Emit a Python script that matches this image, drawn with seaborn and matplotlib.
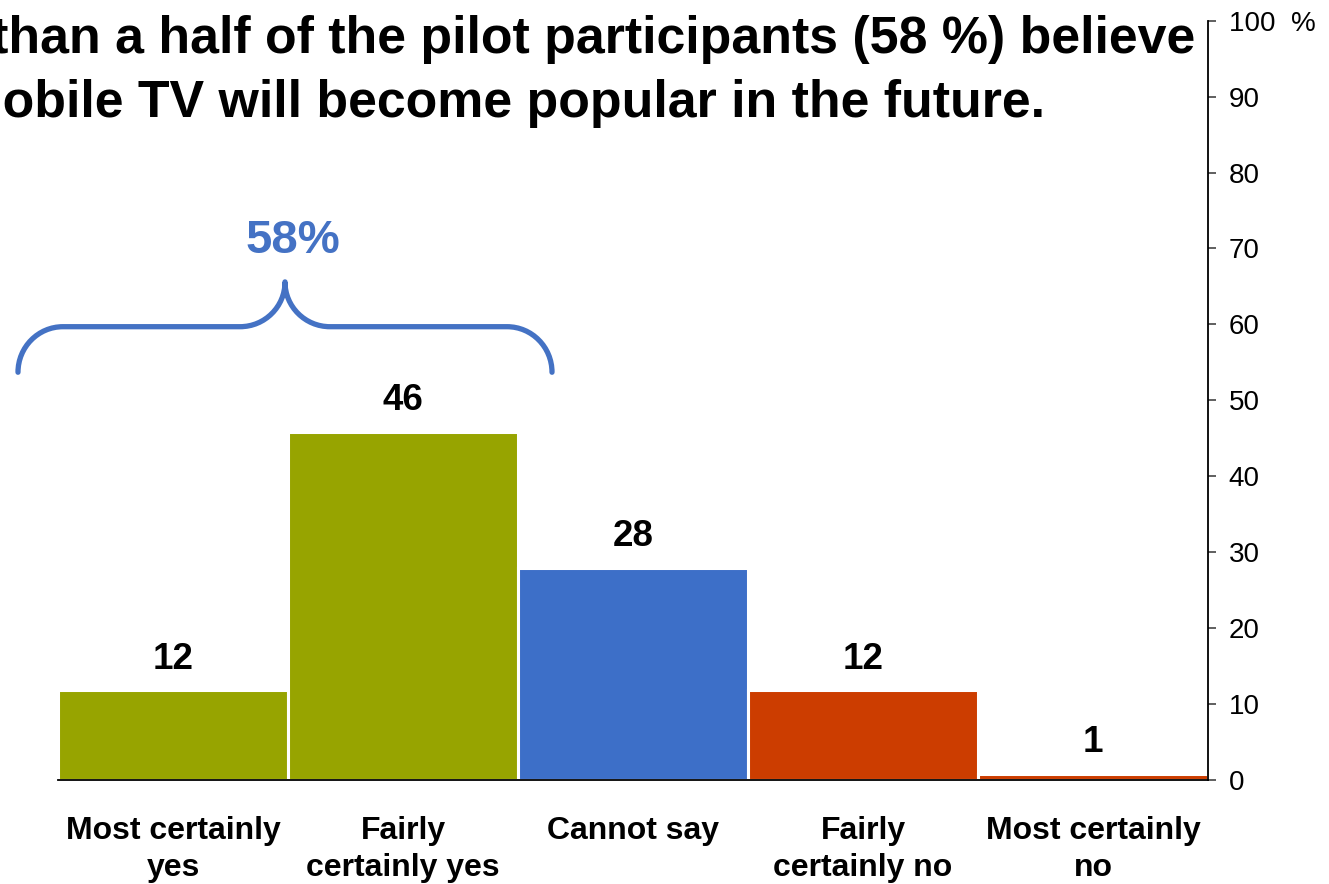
import numpy as np
import pandas as pd
import matplotlib
matplotlib.use("Agg")
import matplotlib.pyplot as plt
from matplotlib.path import Path
from matplotlib.patches import PathPatch
import seaborn as sns

# ---- data ----
categories = ["Most certainly\nyes", "Fairly\ncertainly yes", "Cannot say",
              "Fairly\ncertainly no", "Most certainly\nno"]
values = [11.8, 45.8, 27.9, 11.8, 0.8]
bar_colors = ["#97A400", "#97A400", "#3D6FC8", "#CC3D00", "#CC3D00"]
ytick_values = [0, 10, 20, 30, 40, 50, 60, 70, 80, 90, 100]
ytick_labels = ["0", "10", "20", "30", "40", "50", "60", "70", "80", "90", "100  %"]
title_line1 = "More than a half of the pilot participants (58 %) believe"
title_line2 = "that mobile TV will become popular in the future."
group_label = "58%"
group_span = (0, 1)  # categories covered by the brace

sns.set_style("white")
plt.rcParams["font.family"] = ["Liberation Sans", "DejaVu Sans"]
plt.rcParams["text.color"] = "black"

fig = plt.figure(figsize=(13.29, 8.84), dpi=100)
W, H = 1329, 884
ax = fig.add_axes([58 / W, 1 - 780 / H, 1150 / W, (780 - 20.7) / H])

df = pd.DataFrame({"cat": categories, "val": values})
sns.barplot(data=df, x="cat", y="val", hue="cat", palette=bar_colors,
            legend=False, width=1.0, edgecolor="white", linewidth=2.2,
            saturation=1, ax=ax)

ax.set_xlim(-0.5, len(categories) - 0.5)
ax.set_ylim(0, 100)
ax.set_xlabel("")
ax.set_ylabel("")

# value labels
for cont in ax.containers:
    ax.bar_label(cont, labels=[f"{b.get_height():.0f}" for b in cont],
                 padding=10, fontsize=26.5, fontweight="bold", color="black")

# y axis on right
ax.yaxis.tick_right()
ax.set_yticks(ytick_values)
ax.set_yticklabels(ytick_labels, fontsize=20, color="black")
ax.tick_params(axis="y", which="major", direction="out", length=6,
               width=1.2, color="#444444", pad=9, right=True, left=False)

# x axis: labels at centers, ticks at boundaries
ax.set_xticks(range(len(categories)))
ax.set_xticklabels(categories, fontsize=23, fontweight="bold", linespacing=1.3,
                   color="black")
ax.tick_params(axis="x", which="major", length=0, pad=26)
ax.set_xticks(np.arange(-0.5, len(categories)), minor=True)
ax.tick_params(axis="x", which="minor", direction="out", length=6,
               width=1.2, color="#444444")

for s in ["top", "left"]:
    ax.spines[s].set_visible(False)
for s in ["right", "bottom"]:
    ax.spines[s].set_visible(True)
    ax.spines[s].set_color("black")
    ax.spines[s].set_linewidth(1.3)
ax.grid(False)

# brace over the group
x0 = group_span[0] - 0.5 - 40 / 230
x1 = group_span[1] + 0.5 + 34 / 230
xm = (x0 + x1) / 2
y_end, y_h, y_tip = 53.7, 59.7, 65.6
rx, ry = 45 / 230, (y_h - y_end) * 1.0
k = 0.5523
verts = [
    (x0, y_end),
    (x0, y_end + k * ry), (x0 + rx * (1 - k), y_h), (x0 + rx, y_h),
    (xm - rx, y_h),
    (xm - rx * (1 - k), y_h), (xm, y_h + (y_tip - y_h) * (1 - k)), (xm, y_tip),
    (xm, y_h + (y_tip - y_h) * (1 - k)), (xm + rx * (1 - k), y_h), (xm + rx, y_h),
    (x1 - rx, y_h),
    (x1 - rx * (1 - k), y_h), (x1, y_end + k * ry), (x1, y_end),
]
codes = [Path.MOVETO,
         Path.CURVE4, Path.CURVE4, Path.CURVE4,
         Path.LINETO,
         Path.CURVE4, Path.CURVE4, Path.CURVE4,
         Path.CURVE4, Path.CURVE4, Path.CURVE4,
         Path.LINETO,
         Path.CURVE4, Path.CURVE4, Path.CURVE4]
brace = PathPatch(Path(verts, codes), facecolor="none", edgecolor="#4472C4",
                  linewidth=3.8, capstyle="round", joinstyle="round", clip_on=False)
ax.add_patch(brace)
ax.text(xm + 0.035, 69.4, group_label, ha="center", va="baseline", fontsize=34,
        fontweight="bold", color="#4472C4", clip_on=False)

# title (clipped on the left like the reference)
fig.text(1195 / W, 1 - 53 / H, title_line1, ha="right", va="baseline",
         fontsize=37.4, fontweight="bold", color="black")
fig.text(1045 / W, 1 - 117 / H, title_line2, ha="right", va="baseline",
         fontsize=37.4, fontweight="bold", color="black")

fig.savefig("out.png", dpi=100, facecolor="white")
